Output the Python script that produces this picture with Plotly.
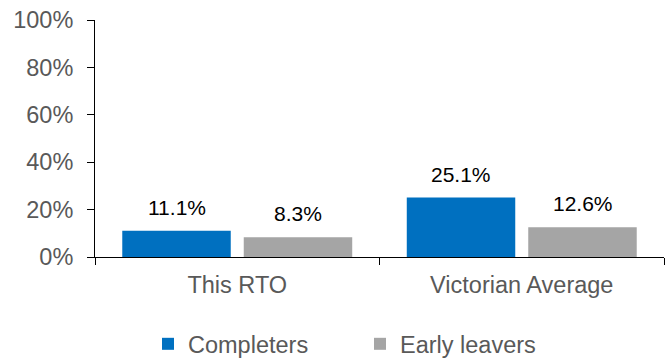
import plotly.graph_objects as go

categories = ["This RTO", "Victorian Average"]
completers = [0.111, 0.251]
early_leavers = [0.083, 0.126]
y_ticks = [0, 0.2, 0.4, 0.6, 0.8, 1.0]

BLUE = "#0070C0"
GREY = "#A5A5A5"
FONT = "Liberation Sans, Arial, sans-serif"

fig = go.Figure()
fig.add_trace(go.Bar(name="Completers", x=categories, y=completers,
                     marker=dict(color=BLUE, line=dict(width=0))))
fig.add_trace(go.Bar(name="Early leavers", x=categories, y=early_leavers,
                     marker=dict(color=GREY, line=dict(width=0))))

# value labels above each bar, offset to the centre of each bar slot
slot_half = 60.75
for series, shift in ((completers, -slot_half), (early_leavers, slot_half)):
    for cat, v in zip(categories, series):
        fig.add_annotation(x=cat, y=v, xref="x", yref="y", text=f"{v:.1%}",
                           showarrow=False, xshift=shift, yshift=10,
                           yanchor="bottom",
                           font=dict(family=FONT, size=21, color="#000000"))

fig.update_layout(
    width=672, height=361,
    margin=dict(l=95, r=8, t=20, b=104),
    paper_bgcolor="white", plot_bgcolor="white",
    barmode="group", bargap=0.146, bargroupgap=0.107,
    font=dict(family=FONT, size=23.5, color="#595959"),
    showlegend=True,
    legend=dict(orientation="h", xref="container", yref="container",
                x=148 / 672, xanchor="left", y=0.047, yanchor="middle",
                font=dict(family=FONT, size=23.5, color="#595959"),
                itemwidth=30, entrywidth=167, traceorder="normal"),
)
fig.update_yaxes(range=[0, 1], tickvals=y_ticks, tickformat=".0%",
                 showgrid=False, zeroline=False,
                 showline=True, linecolor="#000000", linewidth=1,
                 ticks="outside", ticklen=7, tickcolor="#000000",
                 ticklabelstandoff=9)
fig.update_xaxes(showgrid=False, showline=True, linecolor="#000000",
                 linewidth=1, ticks="outside", ticklen=7,
                 tickcolor="#000000", tickson="boundaries",
                 ticklabelstandoff=7)

fig.write_html("out.html")
